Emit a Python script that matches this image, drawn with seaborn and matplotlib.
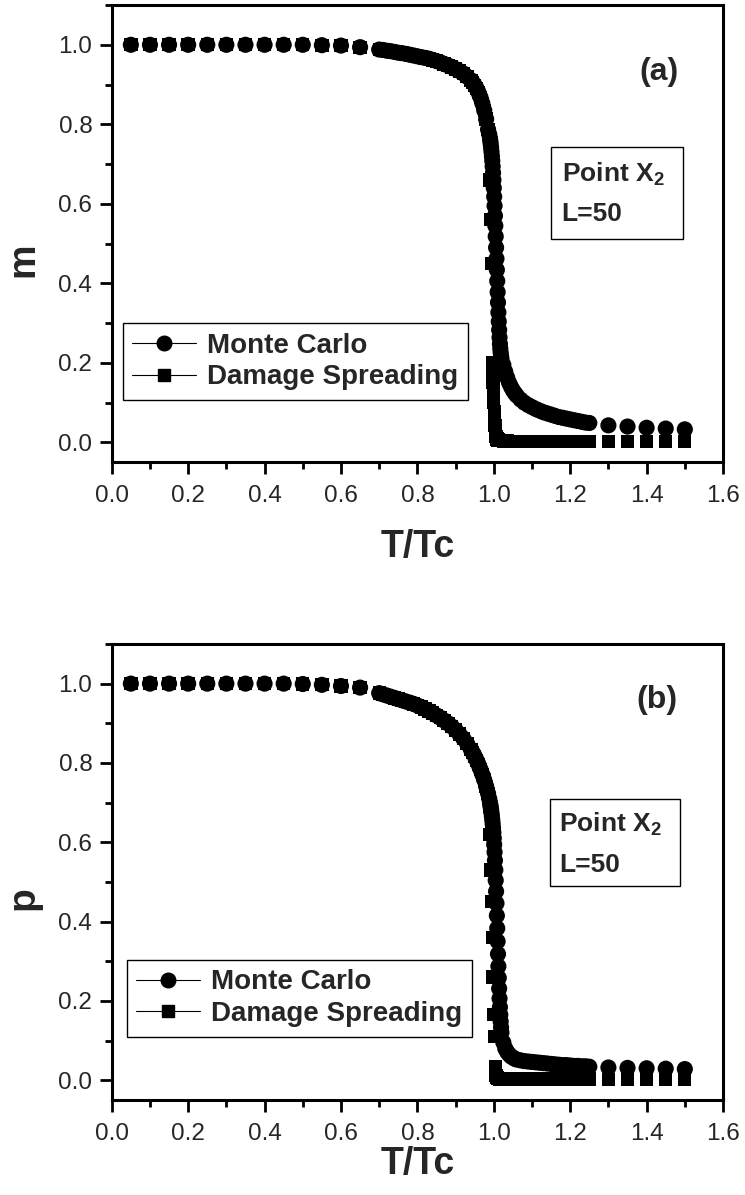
import numpy as np
import pandas as pd
import matplotlib
matplotlib.use("Agg")
import matplotlib.pyplot as plt
import seaborn as sns
from matplotlib.lines import Line2D
from matplotlib.patches import Rectangle
from matplotlib.ticker import MultipleLocator, FormatStrFormatter
from matplotlib.font_manager import FontProperties

# ---------------- data ----------------
T = [0.05, 0.10, 0.15, 0.20, 0.25, 0.30, 0.35, 0.40, 0.45, 0.50, 0.55, 0.60, 0.65,
     0.70, 0.71, 0.72, 0.73, 0.74, 0.75, 0.76, 0.77, 0.78, 0.79, 0.80, 0.81, 0.82,
     0.83, 0.84, 0.85, 0.86, 0.87, 0.88, 0.89, 0.90, 0.91, 0.92, 0.93, 0.94,
     0.945, 0.95, 0.955, 0.96, 0.965, 0.97, 0.975, 0.98, 0.985,
     0.988, 0.990, 0.991, 0.992, 0.993, 0.994, 0.995, 0.996, 0.997, 0.998, 0.999,
     1.000, 1.001, 1.002, 1.003, 1.004, 1.005, 1.006, 1.007, 1.008, 1.009,
     1.010, 1.011, 1.012, 1.013, 1.014, 1.015, 1.016, 1.017, 1.018, 1.019, 1.020,
     1.025, 1.03, 1.035, 1.04, 1.045, 1.05, 1.055, 1.06,
     1.07, 1.08, 1.09, 1.10, 1.11, 1.12, 1.13, 1.14, 1.15, 1.16, 1.17, 1.18, 1.19,
     1.20, 1.21, 1.22, 1.23, 1.24, 1.25,
     1.30, 1.35, 1.40, 1.45, 1.50]

m_mc = [1.000, 1.000, 1.000, 1.000, 1.000, 1.000, 1.000, 1.000, 1.000, 1.000, 0.999, 0.998, 0.994,
        0.988, 0.987, 0.985, 0.984, 0.982, 0.980, 0.979, 0.977, 0.975, 0.973, 0.971, 0.969, 0.967,
        0.965, 0.962, 0.959, 0.956, 0.952, 0.948, 0.944, 0.939, 0.934, 0.928, 0.920, 0.911,
        0.905, 0.898, 0.890, 0.880, 0.868, 0.853, 0.835, 0.813, 0.787,
        0.775, 0.765, 0.758, 0.750, 0.741, 0.731, 0.720, 0.708, 0.694, 0.678, 0.660,
        0.640, 0.618, 0.595, 0.570, 0.545, 0.518, 0.490, 0.462, 0.434, 0.406,
        0.378, 0.352, 0.327, 0.304, 0.283, 0.264, 0.248, 0.236, 0.226, 0.218, 0.211,
        0.195, 0.178, 0.163, 0.150, 0.140, 0.131, 0.124, 0.118,
        0.108, 0.100, 0.094, 0.089, 0.084, 0.080, 0.076, 0.073, 0.070, 0.067, 0.064, 0.062, 0.060,
        0.058, 0.056, 0.054, 0.052, 0.050, 0.049,
        0.043, 0.040, 0.037, 0.035, 0.033]

m_ds = [1.000, 1.000, 1.000, 1.000, 1.000, 1.000, 1.000, 1.000, 1.000, 1.000, 0.999, 0.998, 0.994,
        0.988, 0.987, 0.985, 0.984, 0.982, 0.980, 0.979, 0.977, 0.975, 0.973, 0.971, 0.969, 0.967,
        0.965, 0.962, 0.959, 0.956, 0.952, 0.948, 0.944, 0.939, 0.934, 0.928, 0.920, 0.911,
        0.905, 0.898, 0.890, 0.880, 0.868, 0.853, 0.835, 0.813, 0.787,
        0.760, 0.660, 0.660, 0.560, 0.560, 0.450, 0.450, 0.200, 0.175, 0.150, 0.125,
        0.100, 0.078, 0.058, 0.042, 0.030, 0.021, 0.015, 0.011, 0.009, 0.008,
        0.007, 0.006, 0.006, 0.005, 0.005, 0.005, 0.005, 0.005, 0.005, 0.005, 0.005,
        0.004, 0.004, 0.004, 0.003, 0.003, 0.003, 0.003, 0.003,
        0.003, 0.003, 0.003, 0.003, 0.003, 0.003, 0.003, 0.003, 0.003, 0.003, 0.003, 0.003, 0.003,
        0.003, 0.003, 0.003, 0.003, 0.003, 0.003,
        0.002, 0.002, 0.002, 0.002, 0.002]

p_mc = [1.000, 1.000, 1.000, 1.000, 1.000, 1.000, 1.000, 1.000, 1.000, 0.999, 0.997, 0.994, 0.990,
        0.976, 0.973, 0.970, 0.967, 0.964, 0.961, 0.958, 0.955, 0.952, 0.949, 0.945, 0.941, 0.936,
        0.931, 0.926, 0.920, 0.914, 0.907, 0.900, 0.892, 0.883, 0.873, 0.862, 0.849, 0.834,
        0.826, 0.817, 0.807, 0.796, 0.784, 0.771, 0.757, 0.741, 0.723,
        0.710, 0.700, 0.694, 0.688, 0.681, 0.674, 0.666, 0.657, 0.647, 0.636, 0.624,
        0.610, 0.594, 0.575, 0.554, 0.530, 0.504, 0.476, 0.446, 0.415, 0.383,
        0.350, 0.318, 0.287, 0.258, 0.231, 0.206, 0.184, 0.165, 0.148, 0.133, 0.120,
        0.095, 0.080, 0.071, 0.065, 0.060, 0.057, 0.054, 0.052,
        0.050, 0.048, 0.047, 0.046, 0.045, 0.044, 0.043, 0.042, 0.041, 0.040, 0.039, 0.038, 0.038,
        0.037, 0.036, 0.036, 0.035, 0.035, 0.034,
        0.032, 0.031, 0.030, 0.029, 0.028]

p_ds = [1.000, 1.000, 1.000, 1.000, 1.000, 1.000, 1.000, 1.000, 1.000, 0.999, 0.997, 0.994, 0.990,
        0.976, 0.973, 0.970, 0.967, 0.964, 0.961, 0.958, 0.955, 0.952, 0.949, 0.945, 0.941, 0.936,
        0.931, 0.926, 0.920, 0.914, 0.907, 0.900, 0.892, 0.883, 0.873, 0.862, 0.849, 0.834,
        0.826, 0.817, 0.807, 0.796, 0.784, 0.771, 0.757, 0.741, 0.723,
        0.690, 0.620, 0.620, 0.530, 0.530, 0.450, 0.450, 0.360, 0.360, 0.260, 0.260,
        0.165, 0.165, 0.110, 0.110, 0.035, 0.020, 0.012, 0.008, 0.006, 0.005,
        0.005, 0.004, 0.004, 0.004, 0.004, 0.004, 0.003, 0.003, 0.003, 0.003, 0.003,
        0.003, 0.003, 0.003, 0.003, 0.003, 0.003, 0.003, 0.003,
        0.003, 0.003, 0.003, 0.003, 0.003, 0.003, 0.003, 0.003, 0.003, 0.003, 0.003, 0.003, 0.003,
        0.003, 0.003, 0.003, 0.003, 0.003, 0.003,
        0.002, 0.002, 0.002, 0.002, 0.002]

series_names = ["Monte Carlo", "Damage Spreading"]
x_label = "T/Tc"
panel_tags = ["(a)", "(b)"]
y_labels = ["m", "p"]
info_line1 = "Point X$_2$"
info_line2 = "L=50"

# ---------------- style ----------------
sns.set_style("ticks")
plt.rcParams["font.family"] = ["Liberation Sans", "DejaVu Sans"]
plt.rcParams["mathtext.fontset"] = "custom"
plt.rcParams["mathtext.rm"] = "Liberation Sans:bold"
plt.rcParams["mathtext.it"] = "Liberation Sans:bold"
plt.rcParams["mathtext.bf"] = "Liberation Sans:bold"

fig = plt.figure(figsize=(7.45, 11.95), dpi=100)
ax_a = fig.add_axes([0.150, 0.6131, 0.8205, 0.3827])
ax_b = fig.add_axes([0.150, 0.0795, 0.8205, 0.3816])


def draw_panel(ax, mc, ds, ylabel, tag, tag_xy, box, line1_y, line2_y, text_x,
               leg_anchor, xlabelpad):
    df = pd.DataFrame({"T": T, "MC": mc, "DS": ds})
    sns.scatterplot(data=df, x="T", y="MC", marker="o", s=135, color="black",
                    edgecolor="none", linewidth=0, ax=ax, legend=False, zorder=3)
    sns.scatterplot(data=df, x="T", y="DS", marker="s", s=92, color="black",
                    edgecolor="none", linewidth=0, ax=ax, legend=False, zorder=4)

    ax.set_xlim(0.0, 1.6)
    ax.set_ylim(-0.05, 1.1)
    ax.xaxis.set_major_locator(MultipleLocator(0.2))
    ax.xaxis.set_minor_locator(MultipleLocator(0.1))
    ax.yaxis.set_major_locator(MultipleLocator(0.2))
    ax.yaxis.set_minor_locator(MultipleLocator(0.1))
    ax.xaxis.set_major_formatter(FormatStrFormatter("%.1f"))
    ax.yaxis.set_major_formatter(FormatStrFormatter("%.1f"))
    ax.tick_params(which="both", direction="out", top=False, right=False,
                   width=2.0, color="black")
    ax.tick_params(which="major", length=8.5, labelsize=17.5)
    ax.tick_params(axis="x", which="major", pad=8)
    ax.tick_params(axis="y", which="major", pad=5.5)
    ax.tick_params(which="minor", length=5)
    for sp in ax.spines.values():
        sp.set_visible(True)
        sp.set_linewidth(2.2)
        sp.set_color("black")

    ax.set_xlabel(x_label, fontsize=27, fontweight="bold", labelpad=xlabelpad)
    ax.set_ylabel(ylabel, fontsize=28, fontweight="bold")
    ax.yaxis.set_label_coords(-0.115, 0.443)

    ax.text(tag_xy[0], tag_xy[1], tag, transform=ax.transAxes, ha="center",
            va="center", fontsize=23, fontweight="bold")

    rect = Rectangle((box[0], box[1]), box[2], box[3], transform=ax.transAxes,
                     facecolor="white", edgecolor="black", linewidth=1.0, zorder=5)
    ax.add_patch(rect)
    ax.text(text_x, line1_y, info_line1, transform=ax.transAxes, ha="left",
            va="baseline", fontsize=19, fontweight="bold", zorder=6)
    ax.text(text_x, line2_y, info_line2, transform=ax.transAxes, ha="left",
            va="baseline", fontsize=19, fontweight="bold", zorder=6)

    handles = [Line2D([], [], color="black", lw=0.8, marker="o", markersize=10.5),
               Line2D([], [], color="black", lw=0.8, marker="s", markersize=9)]
    leg = ax.legend(handles, series_names, loc="lower left", bbox_to_anchor=leg_anchor,
                    prop=FontProperties(family="Liberation Sans", weight="bold", size=20),
                    frameon=True, fancybox=False, edgecolor="black", framealpha=1,
                    handlelength=2.3, handletextpad=0.4, borderpad=0.35,
                    labelspacing=0.2, borderaxespad=0)
    leg.get_frame().set_linewidth(1.0)
    leg.set_zorder(7)


draw_panel(ax_a, m_mc, m_ds, y_labels[0], panel_tags[0], (0.895, 0.853),
           (0.718, 0.488, 0.216, 0.2015), 0.613, 0.528, 0.736, (0.018, 0.136), 16)
draw_panel(ax_b, p_mc, p_ds, y_labels[1], panel_tags[1], (0.892, 0.877),
           (0.717, 0.469, 0.213, 0.192), 0.588, 0.500, 0.732, (0.0245, 0.139), 1)

fig.savefig("out.png", dpi=100)
